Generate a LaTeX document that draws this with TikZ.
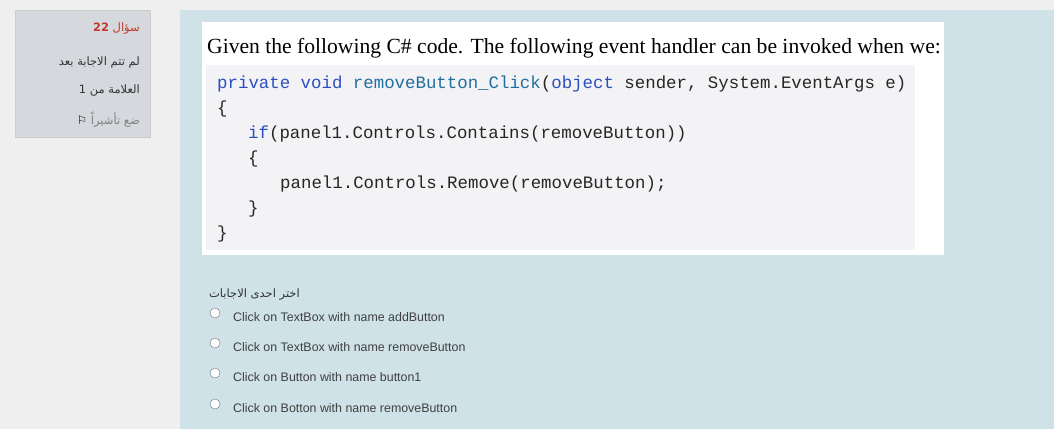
\documentclass[tikz,border=0pt]{standalone}
\usepackage{fontspec}
\setmainfont{Liberation Serif}
\newfontfamily\codefont{Liberation Mono}
\newfontfamily\uifont{Liberation Sans}
\newfontfamily\arabicfont[Script=Arabic]{DejaVu Sans}
\TeXXeTstate=1
\definecolor{pagebg}{HTML}{EFEFEF}
\definecolor{panelbg}{HTML}{D5D9DD}
\definecolor{mainbg}{HTML}{CFE2E8}
\definecolor{codebg}{HTML}{F3F3F5}
\definecolor{kw}{HTML}{2B4FC0}
\definecolor{meth}{HTML}{1F6FA0}
\definecolor{numred}{HTML}{C0392B}
\begin{document}
\begin{tikzpicture}[x=1pt,y=-1pt,
  codeline/.style={anchor=base west,inner sep=0,font=\codefont\fontsize{17.4}{19}\selectfont,text=black!85},
  opt/.style={anchor=base west,inner sep=0,font=\uifont\fontsize{12.4}{14}\selectfont,text=black!75},
  radio/.style={circle,draw=black!55,fill=white,minimum size=10pt,inner sep=0},
  ar/.style={anchor=base east,inner sep=0,font=\arabicfont\fontsize{11.5}{13}\selectfont,text=black!80}]
\useasboundingbox (0,0) rectangle (1054,429);
\fill[pagebg] (0,0) rectangle (1054,429);
\fill[panelbg,draw=black!20] (15,10) rectangle (150,137);
\fill[mainbg] (180,10) rectangle (1054,429);
\fill[white] (202,22) rectangle (944,255);
\fill[codebg] (206,65) rectangle (915,250);
\node[ar,text=numred] (q) at (140,31) {\beginR سؤال \textbf{22}\endR};
\node[ar] (s1) at (140,65) {\beginR لم تتم الاجابة بعد\endR};
\node[ar] (s2) at (140,93) {\beginR العلامة من 1\endR};
\node[ar] (s3) at (140,124) {\beginR ضع تأشيراً \textcolor{black!50}{⚐}\endR};
\node[anchor=base west,inner sep=0,font=\fontsize{21.6}{24}\selectfont] (title) at (207,53) {Given the following C\# code. The following event handler can be invoked when we:};
\node[codeline] (c1) at (217,88) {\textcolor{kw}{private void} \textcolor{meth}{removeButton\_Click}(\textcolor{kw}{object} sender, System.EventArgs e)};
\node[codeline] (c2) at (217,113) {\{};
\node[codeline] (c3) at (248,138) {\textcolor{kw}{if}(panel1.Controls.Contains(removeButton))};
\node[codeline] (c4) at (248,163) {\{};
\node[codeline] (c5) at (280,188) {panel1.Controls.Remove(removeButton);};
\node[codeline] (c6) at (248,213) {\}};
\node[codeline] (c7) at (217,238) {\}};
\node[ar] (pick) at (300,297) {\beginR اختر احدى الاجابات\endR};
\foreach \y/\t [count=\i] in {321/Click on TextBox with name addButton,351/Click on TextBox with name removeButton,381/Click on Button with name button1,412/Click on Botton with name removeButton}{
  \node[radio] (r\i) at (215,\y-8) {};
  \node[opt] (o\i) at (233,\y) {\t};
}
\end{tikzpicture}
\end{document}
